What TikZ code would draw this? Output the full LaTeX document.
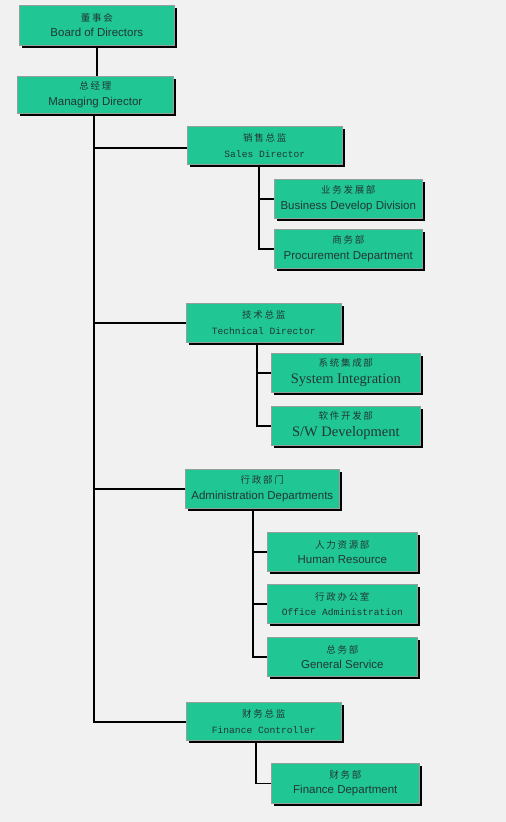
\documentclass[tikz,border=0pt]{standalone}
\usepackage{fontspec}
\setmainfont{Liberation Sans}
\newfontfamily\cjk[LetterSpace=18]{Noto Sans CJK SC}
\newfontfamily\monofnt{Liberation Mono}
\newfontfamily\seriffnt{Liberation Serif}
\usetikzlibrary{shadows}
\definecolor{boxfill}{RGB}{32,198,148}
\definecolor{boxline}{RGB}{150,160,155}
\definecolor{txt}{RGB}{32,56,52}
\definecolor{bg}{RGB}{241,241,241}
\newcommand{\cn}[1]{{\cjk\fontsize{9.5}{12}\selectfont #1}}
\newcommand{\ensans}[1]{{\fontsize{11.5}{14}\selectfont #1}}
\newcommand{\enmono}[1]{{\monofnt\fontsize{9.6}{14}\selectfont #1}}
\newcommand{\enserif}[1]{{\seriffnt\fontsize{14.5}{17}\selectfont #1}}
\begin{document}
\begin{tikzpicture}[x=1pt,y=-1pt,
  orgbox/.style={draw=boxline, line width=0.6pt, fill=boxfill, text=txt,
    anchor=north west, align=center, inner sep=0pt,
    font=\fontsize{11.5}{15.5}\selectfont,
    drop shadow={shadow xshift=2.5pt, shadow yshift=-2.5pt, fill=black, opacity=1}},
  serifbox/.style={orgbox, font=\fontsize{11.5}{17}\selectfont},
  link/.style={line width=1.6pt, black}]
\fill[bg] (0,0) rectangle (506,822);
\useasboundingbox (0,0) rectangle (506,822);

% boxes
\node[orgbox, minimum width=155pt, minimum height=40pt] (board) at (19,5) {\cn{董事会}\\\ensans{Board of Directors}};
\node[orgbox, minimum width=156pt, minimum height=37pt] (md) at (17,76) {\cn{总经理}\\\ensans{Managing Director}};

\node[orgbox, minimum width=155pt, minimum height=38pt] (sales) at (187,126) {\cn{销售总监}\\\enmono{Sales Director}};
\node[orgbox, minimum width=148pt, minimum height=39pt] (bdd) at (274,179) {\cn{业务发展部}\\\ensans{Business Develop Division}};
\node[orgbox, minimum width=148pt, minimum height=39pt] (proc) at (274,229) {\cn{商务部}\\\ensans{Procurement Department}};

\node[orgbox, minimum width=155pt, minimum height=39pt] (tech) at (186,303) {\cn{技术总监}\\\enmono{Technical Director}};
\node[serifbox, minimum width=149pt, minimum height=39pt] (si) at (271,353) {\cn{系统集成部}\\\enserif{System Integration}};
\node[serifbox, minimum width=149pt, minimum height=39pt] (sw) at (271,406) {\cn{软件开发部}\\\enserif{S/W Development}};

\node[orgbox, minimum width=154pt, minimum height=39pt] (admin) at (185,469) {\cn{行政部门}\\\ensans{Administration Departments}};
\node[orgbox, minimum width=150pt, minimum height=39pt] (hr) at (267,532) {\cn{人力资源部}\\\ensans{Human Resource}};
\node[orgbox, minimum width=150pt, minimum height=39pt] (oa) at (267,584) {\cn{行政办公室}\\\enmono{Office Administration}};
\node[orgbox, minimum width=150pt, minimum height=39pt] (gs) at (267,637) {\cn{总务部}\\\ensans{General Service}};

\node[orgbox, minimum width=155pt, minimum height=38pt] (fc) at (186,702) {\cn{财务总监}\\\enmono{Finance Controller}};
\node[orgbox, minimum width=148pt, minimum height=40pt] (fd) at (271,763) {\cn{财务部}\\\ensans{Finance Department}};

% connectors
\draw[link] (board.south -| 97,0) -- (md.north -| 97,0);
\coordinate (trunkbot) at (94,722);
\draw[link] (md.south -| trunkbot) -- (trunkbot) -- (fc.west |- trunkbot);
\draw[link] (sales.west |- 0,148) -- (trunkbot |- 0,148);
\draw[link] (tech.west) -- (tech.west -| trunkbot);
\draw[link] (admin.west) -- (admin.west -| trunkbot);

\coordinate (sx) at (259,0);
\draw[link] (sales.south -| sx) -- (proc.west -| sx) -- (proc.west);
\draw[link] (bdd.west) -- (bdd.west -| sx);

\coordinate (tx) at (257,0);
\draw[link] (tech.south -| tx) -- (sw.west -| tx) -- (sw.west);
\draw[link] (si.west) -- (si.west -| tx);

\coordinate (ax) at (253,0);
\draw[link] (admin.south -| ax) -- (gs.west -| ax) -- (gs.west);
\draw[link] (hr.west) -- (hr.west -| ax);
\draw[link] (oa.west) -- (oa.west -| ax);

\coordinate (fx) at (256,0);
\draw[link] (fc.south -| fx) -- (fd.west -| fx) -- (fd.west);
\end{tikzpicture}
\end{document}
